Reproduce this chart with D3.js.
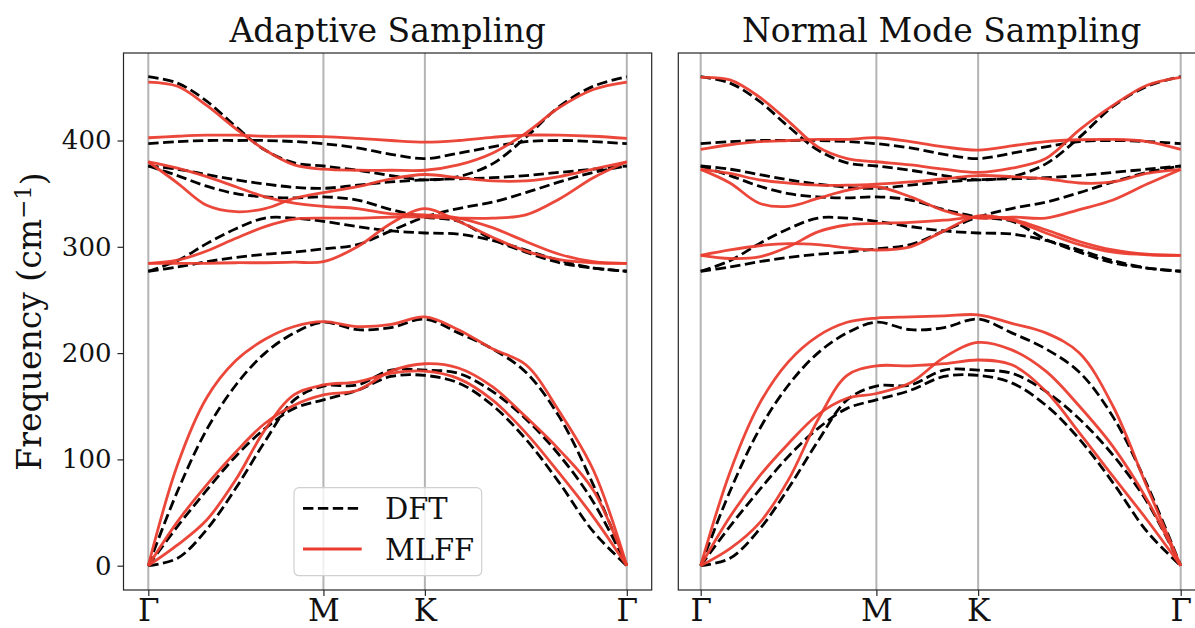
<!DOCTYPE html>
<html><head><meta charset="utf-8">
<script src="https://cdn.jsdelivr.net/npm/d3@7"></script>
<style>html,body{margin:0;padding:0;background:#fff}</style>
</head><body>
<svg id="chart" width="1195" height="628"></svg>
<script>
// ---- data ----
const qPos = [0, 0.061, 0.122, 0.183, 0.244, 0.305, 0.366, 0.437, 0.507, 0.578, 0.648, 0.719, 0.789, 0.859, 0.930, 1.0];
const highSymPos = [0, 0.366, 0.578, 1.0];
const highSymLabels = ["Γ", "M", "K", "Γ"];
const yTicks = [0, 100, 200, 300, 400];
const panelTitles = ["Adaptive Sampling", "Normal Mode Sampling"];
const seriesNames = ["DFT", "MLFF"];

const dftBands = [
  [0, 70, 128, 170, 200, 219, 229, 222, 224, 232, 219, 204, 182, 140, 76, 0],
  [0, 37, 71, 103, 129, 148, 156, 165, 178, 179, 172, 151, 119, 78, 32, 0],
  [0, 7, 34, 73, 117, 156, 169, 170, 184, 184, 181, 164, 138, 104, 60, 0],
  [460, 454, 437, 413, 391, 379, 376, 372, 367, 363, 366, 378, 403, 432, 451, 460],
  [397, 399, 400, 400, 400, 399, 397, 393, 387, 383, 388, 394, 399, 400, 399, 397],
  [376, 373, 368, 363, 359, 356, 355, 358, 361, 363, 364, 365, 367, 370, 373, 376],
  [376, 367, 357, 350, 347, 346, 347, 344, 335, 328, 324, 307, 295, 285, 280, 277],
  [277, 287, 303, 317, 327, 327, 324, 319, 315, 313, 312, 306, 297, 287, 280, 277],
  [277, 281, 286, 290, 293, 295, 298, 302, 315, 328, 336, 342, 351, 361, 370, 376]
];

const adaptiveBands = [
  [0, 95, 158, 193, 213, 225, 229.6, 225, 227, 234, 222, 204, 189, 145, 90, 0],
  [0, 41.5, 76, 107, 134, 151, 160.6, 165, 183, 190, 186, 168.5, 140, 109, 71, 0],
  [0, 19.5, 43, 81, 128, 161, 170, 173, 181, 183, 176, 156, 125, 87, 46, 0],
  [455, 451, 433, 411, 391, 377, 373, 372, 372, 372, 377, 388, 407, 431, 448, 455],
  [402.6, 404, 405, 405, 404, 404, 403.6, 402, 400, 398.5, 400, 403, 405, 405, 404, 402],
  [380, 374, 366, 356.5, 347, 341, 338, 336, 331, 330, 327, 318, 305, 293, 286, 284.5],
  [380, 360, 339, 333, 336, 345.5, 351, 356.5, 364, 368, 365, 362, 362, 366, 373, 380],
  [284.5, 287.5, 296, 308, 319, 326, 327, 327, 328, 328, 327, 327, 330, 345, 365, 380],
  [284.5, 284.5, 284.5, 285, 285, 285.5, 286, 300, 322, 336, 324, 309, 296, 288, 285, 284.5]
];

const normalModeBands = [
  [0, 88, 152, 192, 216, 229, 233, 234, 235, 236, 228, 219, 200, 150, 74, 0],
  [0, 46, 84, 115, 142, 157.5, 162, 172, 196, 210, 203, 183, 150, 112, 62, 0],
  [0, 16, 40, 81, 137, 179, 188, 188, 190, 193.5, 189, 164, 125, 84, 43, 0],
  [459.4, 457, 441, 418, 394, 383, 380, 377, 373, 370, 374, 383, 410, 433, 452, 459.4],
  [391.6, 396, 399, 400, 401, 401, 402.6, 399, 394, 391, 395, 399, 400.7, 401, 399, 391.6],
  [372.8, 369, 363, 360, 358, 358, 359, 361, 364, 367, 366, 364, 360, 361, 369, 372.8],
  [372.8, 360, 341, 338, 345.5, 353, 356.5, 347, 334, 327, 328, 327, 335, 344, 359, 372.8],
  [292, 289, 290.5, 300, 314, 320.5, 322, 323, 325, 328, 326, 316, 305, 297, 293, 292],
  [292, 297, 301, 303, 302, 299, 297, 300, 315, 329, 325, 313, 302, 295, 292.5, 292]
];

// ---- layout ----
const svg = d3.select("#chart");
const W = 1195, H = 628;
const frameTop = 53, frameBottom = 590;
const panels = [
  {x0: 123.5, x1: 651.7, g0: 148.3, g1: 626.8, bands: adaptiveBands, title: panelTitles[0], yAxis: true, legend: true},
  {x0: 678.3, x1: 1205, g0: 700.7, g1: 1180.7, bands: normalModeBands, title: panelTitles[1], yAxis: false, legend: false}
];
const y = d3.scaleLinear().domain([0, 400]).range([565.7, 140.5]);
const FONT = "'DejaVu Serif', serif";
const RED = "#ea3d2f";
const LW = 2.8;
const DASH = "10.4,4.5";

svg.append("rect").attr("width", W).attr("height", H).attr("fill", "#fff");

panels.forEach((p, pi) => {
  const x = d3.scaleLinear().domain([0, 1]).range([p.g0, p.g1]);
  const g = svg.append("g");
  const clipId = "clip" + pi;
  svg.append("clipPath").attr("id", clipId).append("rect")
    .attr("x", p.x0).attr("y", frameTop).attr("width", p.x1 - p.x0).attr("height", frameBottom - frameTop);

  const plot = g.append("g").attr("clip-path", `url(#${clipId})`);
  plot.selectAll("line.hs").data(highSymPos).enter().append("line")
    .attr("x1", d => x(d)).attr("x2", d => x(d))
    .attr("y1", frameTop).attr("y2", frameBottom)
    .attr("stroke", "#b4b4b4").attr("stroke-width", 2);

  const line = d3.line()
    .x((d, i) => x(qPos[i]))
    .y(d => y(d))
    .curve(d3.curveCatmullRom.alpha(0.5));

  plot.selectAll("path.dft").data(dftBands).enter().append("path")
    .attr("d", line).attr("fill", "none")
    .attr("stroke", "#000").attr("stroke-width", LW)
    .attr("stroke-dasharray", DASH);

  plot.selectAll("path.mlff").data(p.bands).enter().append("path")
    .attr("d", line).attr("fill", "none")
    .attr("stroke", RED).attr("stroke-width", LW).attr("stroke-opacity", 0.95);

  g.append("rect").attr("x", p.x0).attr("y", frameTop)
    .attr("width", p.x1 - p.x0).attr("height", frameBottom - frameTop)
    .attr("fill", "none").attr("stroke", "#262626").attr("stroke-width", 1.2);

  const xAxis = d3.axisBottom(x).tickValues(highSymPos)
    .tickFormat((d, i) => highSymLabels[i]).tickSize(6).tickPadding(6);
  const xa = g.append("g").attr("transform", `translate(0,${frameBottom})`).call(xAxis);
  xa.select(".domain").remove();
  xa.selectAll(".tick line").attr("stroke", "#262626").attr("stroke-width", 1.2);
  xa.selectAll(".tick text").attr("font-family", FONT).attr("font-size", 31).attr("fill", "#111")
    .attr("y", 30.5).attr("dy", 0);

  if (p.yAxis) {
    const yAxis = d3.axisLeft(y).tickValues(yTicks).tickSize(6).tickPadding(6);
    const ya = g.append("g").attr("transform", `translate(${p.x0},0)`).call(yAxis);
    ya.select(".domain").remove();
    ya.selectAll(".tick line").attr("stroke", "#262626").attr("stroke-width", 1.2);
    ya.selectAll(".tick text").attr("font-family", FONT).attr("font-size", 26).attr("fill", "#111");
  }

  g.append("text").attr("x", (p.x0 + p.x1) / 2).attr("y", 42)
    .attr("text-anchor", "middle").attr("font-family", FONT).attr("font-size", 33)
    .attr("fill", "#111").text(p.title);

  if (p.legend) {
    const lg = g.append("g");
    lg.append("rect").attr("x", 294).attr("y", 487.7).attr("width", 187.7).attr("height", 88)
      .attr("rx", 5).attr("fill", "#fff").attr("fill-opacity", 0.8)
      .attr("stroke", "#d0d0d0").attr("stroke-width", 1.2);
    const items = [
      {name: seriesNames[0], color: "#000", dash: DASH, yy: 508.3},
      {name: seriesNames[1], color: RED, dash: null, yy: 549}
    ];
    items.forEach(it => {
      lg.append("line").attr("x1", 303).attr("x2", 361.7).attr("y1", it.yy).attr("y2", it.yy)
        .attr("stroke", it.color).attr("stroke-width", LW)
        .attr("stroke-dasharray", it.dash);
      lg.append("text").attr("x", 385).attr("y", it.yy + 11)
        .attr("font-family", FONT).attr("font-size", 29).attr("fill", "#111").text(it.name);
    });
  }
});

const yl = svg.append("text").attr("transform", "translate(41,321.5) rotate(-90)")
  .attr("text-anchor", "middle").attr("font-family", FONT).attr("font-size", 33).attr("fill", "#111");
yl.append("tspan").text("Frequency (cm");
yl.append("tspan").attr("dy", "-0.42em").attr("font-size", 23).text("−1");
yl.append("tspan").attr("dy", "0.42em").text(")");
</script>
</body></html>
